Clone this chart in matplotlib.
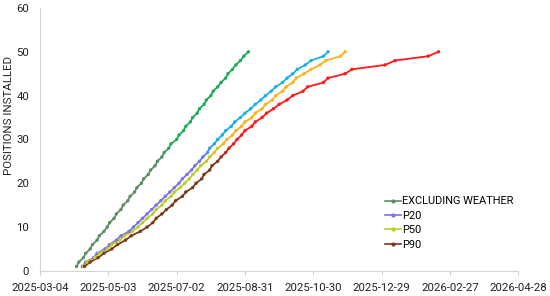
#!/usr/bin/env python3
"""
Cumulative positions installed: excluding weather vs P20 / P50 / P90 forecasts.
"""

import numpy as np
import matplotlib
matplotlib.use("Agg")
import matplotlib.pyplot as plt
import matplotlib.dates as mdates
from matplotlib.colors import to_rgb
from matplotlib.lines import Line2D

plt.rcParams["font.family"] = ["Roboto", "DejaVu Sans"]

START = np.datetime64("2025-03-04")

positions = list(range(1, 51))

# days after 2025-03-04 at which each position is installed
days_excl_weather = [32, 34, 38, 40, 44, 46, 50, 52, 56, 59,
                     61, 65, 67, 71, 73, 77, 79, 83, 85, 89,
                     91, 95, 97, 101, 103, 107, 109, 113, 115, 120,
                     122, 126, 128, 132, 134, 138, 140, 144, 146, 150,
                     152, 156, 159, 163, 165, 169, 172, 176, 179, 183]
days_p20 = [37, 40, 47, 50, 57, 61, 67, 71, 78, 82,
            86, 90, 94, 98, 102, 106, 110, 114, 118, 122,
            125, 129, 133, 136, 140, 143, 147, 149, 153, 156,
            160, 163, 168, 171, 176, 180, 185, 189, 194, 198,
            203, 207, 213, 217, 222, 226, 233, 238, 249, 253]
days_p50 = [38, 41, 48, 52, 59, 63, 70, 74, 81, 86,
            90, 94, 99, 102, 107, 110, 115, 118, 123, 127,
            131, 134, 138, 141, 146, 149, 153, 156, 161, 164,
            169, 172, 177, 180, 186, 189, 195, 198, 204, 207,
            213, 216, 222, 225, 232, 238, 246, 251, 264, 268]
days_p90 = [39, 44, 51, 56, 63, 68, 75, 80, 88, 94,
            99, 102, 107, 111, 116, 119, 125, 128, 134, 137,
            142, 144, 149, 151, 156, 159, 163, 166, 170, 173,
            177, 180, 186, 189, 195, 199, 205, 210, 217, 222,
            231, 235, 249, 253, 268, 274, 303, 312, 341, 350]

series = [
    ("EXCLUDING WEATHER", days_excl_weather, "#5e8f62", "#1faa5c"),
    ("P20", days_p20, "#7f72e6", "#1cb0e2"),
    ("P50", days_p50, "#b9cf22", "#ffb21e"),
    ("P90", days_p90, "#7a3a1c", "#ff1a1a"),
]

tick_labels = ["2025-03-04", "2025-05-03", "2025-07-02", "2025-08-31",
               "2025-10-30", "2025-12-29", "2026-02-27", "2026-04-28"]


def blend(c0, c1, v):
    # early part of each curve is drawn in the start colour, fading to the end colour
    t = min(max((v - 24) / 6.0, 0.0), 1.0)
    a, b = np.array(to_rgb(c0)), np.array(to_rgb(c1))
    return tuple(a + (b - a) * t)


fig = plt.figure(figsize=(5.5, 2.96), dpi=100)
ax = fig.add_axes([0.073, 0.085, 0.869, 0.888])

handles = []
for name, days, c0, c1 in series:
    dates = START + np.array(days).astype("timedelta64[D]")
    x = mdates.date2num(dates)
    y = np.array(positions)
    for i in range(len(x) - 1):
        col = blend(c0, c1, y[i])
        ax.plot(x[i:i + 2], y[i:i + 2], color=col, lw=1.3, solid_capstyle="round")
    cols = [blend(c0, c1, v) for v in y]
    ax.scatter(x, y, s=6, c=cols, zorder=3, linewidths=0)
    handles.append(Line2D([0], [0], color=c0, lw=1.2, marker="o", markersize=2))

ticks = mdates.date2num(np.array(tick_labels, dtype="datetime64[D]"))
ax.set_xticks(ticks)
ax.set_xticklabels(tick_labels)
ax.set_xlim(ticks[0], ticks[-1])
ax.set_ylim(0, 60)
ax.set_yticks(range(0, 61, 10))

for side in ("top", "right"):
    ax.spines[side].set_visible(False)
for side in ("left", "bottom"):
    ax.spines[side].set_color("#d4d4d4")
    ax.spines[side].set_linewidth(0.8)
ax.tick_params(axis="x", colors="#cfcfcf", labelcolor="#222222", length=3,
               width=0.8, labelsize=8.2, pad=6)
ax.tick_params(axis="y", length=0, labelcolor="#222222", labelsize=8.2, pad=8)
ax.set_ylabel("POSITIONS INSTALLED", fontsize=8.2, color="#222222")
ax.yaxis.set_label_coords(-0.054, 0.59)

ax.legend(handles, [s[0] for s in series], loc="upper left",
          bbox_to_anchor=(0.713, 0.30), frameon=False, fontsize=7.9,
          handlelength=1.4, handletextpad=0.15, labelspacing=0.4,
          borderaxespad=0)

fig.savefig("out.png", dpi=100)
plt.close(fig)
